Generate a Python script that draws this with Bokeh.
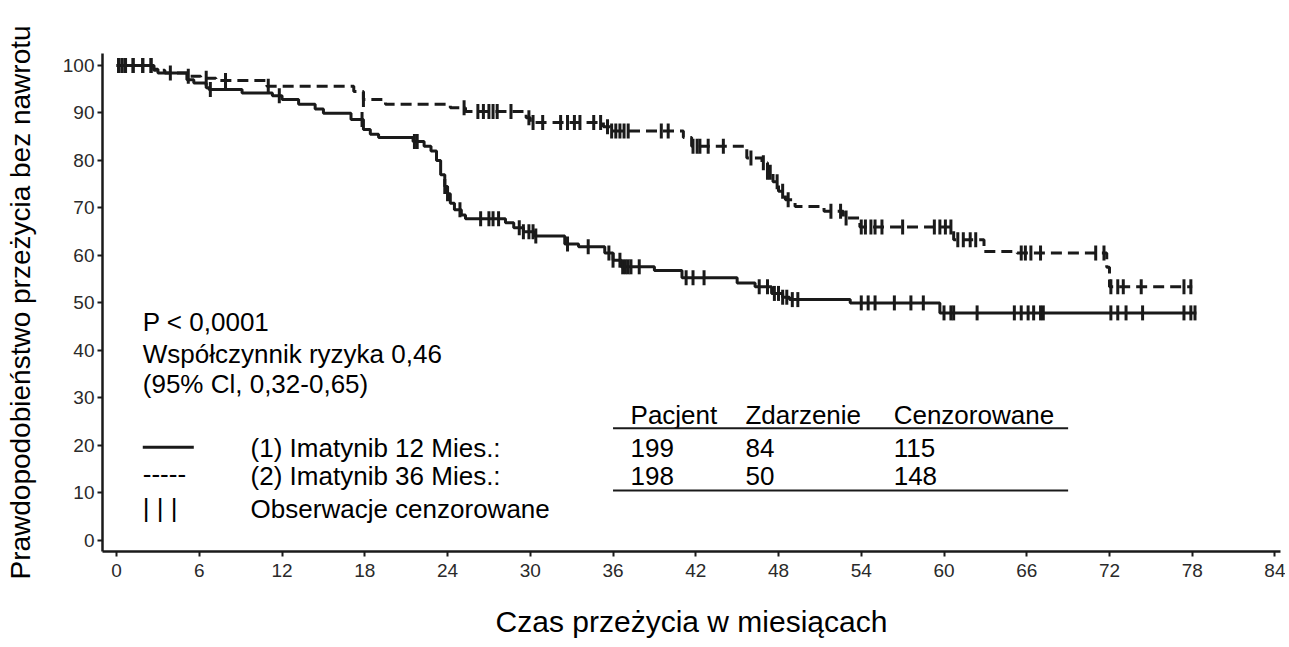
import numpy as np
from bokeh.plotting import figure
from bokeh.models import Range1d, FixedTicker
from bokeh.core.properties import value
from bokeh.embed import file_html
from bokeh.resources import INLINE

# ---------------- data ----------------
# Arm 1: Imatynib 12 Mies. (solid) - Kaplan-Meier step points (months, %)
arm1_t = [0, 2.7, 3.0, 5.1, 5.6, 6.5, 6.7, 9.1, 11.3, 12.0, 13.2, 14.4, 15.0, 17.0, 17.9, 18.4, 19.0,
          21.5, 22.3, 22.8, 23.2, 23.5, 23.8, 24.0, 24.2, 24.5, 25.0, 25.3, 28.2, 28.8, 29.5, 30.3,
          32.5, 33.5, 35.4, 36.0, 36.6, 39.0, 41.0, 45.0, 46.3, 47.5, 48.3, 48.8, 53.2, 59.7]
arm1_s = [100, 99.2, 98.4, 97.0, 96.3, 95.3, 94.9, 94.2, 93.6, 92.8, 91.8, 90.8, 89.9, 88.6, 86.5, 85.5, 84.8,
          84.0, 83.0, 82.0, 80.0, 77.0, 74.5, 73.0, 71.0, 69.6, 68.5, 67.7, 66.9, 65.8, 65.0, 64.1,
          62.4, 61.8, 60.5, 59.0, 57.6, 56.8, 55.3, 54.2, 53.4, 52.0, 51.2, 50.7, 50.0, 47.9]
arm1_end = 78.3
arm1_cens = [0.15, 0.4, 0.65, 1.2, 1.9, 2.5, 3.9, 6.8, 11.8, 17.8, 21.6, 21.8, 23.8, 24.0, 24.9, 26.4,
             27.0, 27.3, 27.7, 29.2, 29.5, 29.9, 30.2, 30.4, 32.7, 34.2, 35.7, 36.0, 36.5, 36.7, 36.9,
             37.1, 37.3, 37.9, 41.3, 41.8, 42.6, 46.6, 47.2, 47.7, 48.0, 48.3, 48.6, 49.0, 49.4, 54.0,
             54.5, 55.0, 56.4, 57.6, 58.5, 60.0, 60.5, 60.7, 62.4, 65.1, 65.6, 66.1, 66.5, 67.0, 67.2,
             72.1, 72.6, 73.2, 74.4, 77.4, 77.9, 78.2]

# Arm 2: Imatynib 36 Mies. (dashed)
arm2_t = [0, 2.7, 3.5, 5.1, 6.1, 7.2, 10.9, 17.2, 17.9, 19.5, 24.2, 25.3, 29.7, 30.0, 35.3, 35.8,
          41.1, 41.7, 45.7, 46.8, 47.2, 47.6, 48.0, 48.5, 49.2, 51.3, 52.7, 53.9, 60.7, 62.9, 65.3,
          71.8, 72.0]
arm2_s = [100, 99.0, 98.4, 97.7, 97.3, 96.8, 95.6, 94.5, 92.8, 91.8, 91.1, 90.3, 89.0, 88.0, 87.1, 86.2,
          84.8, 83.0, 80.5, 79.5, 77.5, 75.5, 73.5, 71.7, 70.3, 69.3, 67.9, 66.0, 63.3, 60.8, 60.5,
          57.5, 53.4]
arm2_end = 78.0
arm2_cens = [0.15, 0.4, 0.65, 1.2, 1.9, 2.5, 5.2, 6.5, 7.9, 11.0, 17.9, 25.2, 26.2, 26.6, 27.0, 27.3,
             27.6, 28.6, 29.9, 30.2, 30.9, 32.2, 32.7, 33.2, 33.6, 34.6, 35.1, 35.6, 35.9, 36.2, 36.5,
             36.8, 37.1, 39.5, 40.0, 41.8, 42.1, 42.3, 42.9, 44.0, 46.0, 46.9, 47.2, 47.4, 47.9, 48.3,
             48.7, 51.8, 52.5, 52.9, 54.0, 54.3, 54.7, 55.0, 55.5, 57.0, 59.3, 59.7, 60.1, 60.5, 61.0,
             61.4, 61.9, 62.3, 65.6, 65.9, 66.3, 67.0, 71.0, 71.6, 72.1, 72.6, 73.0, 74.3, 77.4, 77.9]

x_ticks = [0, 6, 12, 18, 24, 30, 36, 42, 48, 54, 60, 66, 72, 78, 84]
y_ticks = [0, 10, 20, 30, 40, 50, 60, 70, 80, 90, 100]

stat_lines = ["P < 0,0001", "Współczynnik ryzyka 0,46", "(95% Cl, 0,32-0,65)"]
legend_labels = ["(1) Imatynib 12 Mies.:", "(2) Imatynib 36 Mies.:", "Obserwacje cenzorowane"]
legend_symbols = ["-----", "|  |  |"]
table_header = ["Pacjent", "Zdarzenie", "Cenzorowane"]
patients = [199, 198]
events = [84, 50]
censored = [115, 148]

x_title = "Czas przeżycia w miesiącach"
y_title = "Prawdopodobieństwo przeżycia bez nawrotu"

# ---------------- layout / style ----------------
FONT = "Liberation Sans"
INK = "#1a1a1a"
TXT = "26px"
STAT_X = 1.9
STAT_Y = [45.9, 39.2, 32.9]
LEG_SYM_X = 1.9
LEG_TXT_X = 9.72
ROW_Y = [19.4, 13.5, 6.6]
SYM_Y = [13.9, 6.9]
LEG_LINE = ([1.9, 5.6], [19.6, 19.6])
COL_X = [37.27, 45.6, 56.35]
HEAD_Y = 26.4
RULE_X = (36.0, 69.0)
RULE_Y = [23.6, 10.5]


def step_xy(t, s, end):
    return list(t) + [end], list(s) + [s[-1]]


def surv_at(t, s, times):
    idx = np.searchsorted(np.asarray(t), np.asarray(times), side="right") - 1
    return list(np.asarray(s)[idx])


p = figure(width=1285, height=647, output_backend="svg", toolbar_location=None,
           x_range=Range1d(-1.02, 84.4), y_range=Range1d(-2.32, 102.5),
           min_border_left=102, min_border_right=5, min_border_top=53, min_border_bottom=96)
p.outline_line_color = None
p.grid.visible = False
p.background_fill_color = "white"

# curves
x1, y1 = step_xy(arm1_t, arm1_s, arm1_end)
x2, y2 = step_xy(arm2_t, arm2_s, arm2_end)
p.step(x1, y1, mode="after", line_color=INK, line_width=3)
p.step(x2, y2, mode="after", line_color=INK, line_width=3, line_dash="11 6")

# censor marks
p.scatter(arm1_cens, surv_at(arm1_t, arm1_s, arm1_cens), marker="dash", angle=np.pi / 2,
          size=15, line_color=INK, line_width=3)
p.scatter(arm2_cens, surv_at(arm2_t, arm2_s, arm2_cens), marker="dash", angle=np.pi / 2,
          size=15, line_color=INK, line_width=3)

common = dict(text_font=value(FONT), text_font_size=TXT, text_color="black",
              text_baseline="alphabetic", text_align="left")

# statistics
p.text(x=[STAT_X] * len(stat_lines), y=STAT_Y, text=stat_lines, **common)

# legend
p.line(LEG_LINE[0], LEG_LINE[1], line_color=INK, line_width=3)
p.text(x=[LEG_SYM_X] * 2, y=SYM_Y, text=legend_symbols, **common)
p.text(x=[LEG_TXT_X] * 3, y=ROW_Y, text=legend_labels, **common)

# table
p.text(x=COL_X, y=[HEAD_Y] * 3, text=table_header, **common)
for col, vals in zip(COL_X, [patients, events, censored]):
    p.text(x=[col] * 2, y=ROW_Y[:2], text=[str(v) for v in vals], **common)
p.segment(x0=[RULE_X[0]] * 2, x1=[RULE_X[1]] * 2, y0=RULE_Y, y1=RULE_Y,
          line_color=INK, line_width=2)

# axes
for ax in (p.xaxis[0], p.yaxis[0]):
    ax.axis_line_width = 2.5
    ax.axis_line_color = INK
    ax.major_tick_line_color = INK
    ax.major_tick_line_width = 2
    ax.major_tick_out = 5
    ax.major_tick_in = 0
    ax.minor_tick_line_color = None
    ax.major_label_text_font = FONT
    ax.major_label_text_font_size = "19px"
    ax.major_label_text_color = "#2a2a2a"
    ax.axis_label_text_font = FONT
    ax.axis_label_text_font_style = "normal"
    ax.axis_label_text_color = "black"

p.xaxis.axis_label_text_font_size = "30px"
p.yaxis.axis_label_text_font_size = "28px"
p.xaxis.ticker = FixedTicker(ticks=x_ticks)
p.yaxis.ticker = FixedTicker(ticks=y_ticks)
p.xaxis.major_label_standoff = 7
p.yaxis.major_label_standoff = 3
p.xaxis.axis_label = x_title
p.yaxis.axis_label = y_title
p.xaxis.axis_label_standoff = 25
p.yaxis.axis_label_standoff = 24

open("out.html", "w").write(file_html(p, INLINE))
